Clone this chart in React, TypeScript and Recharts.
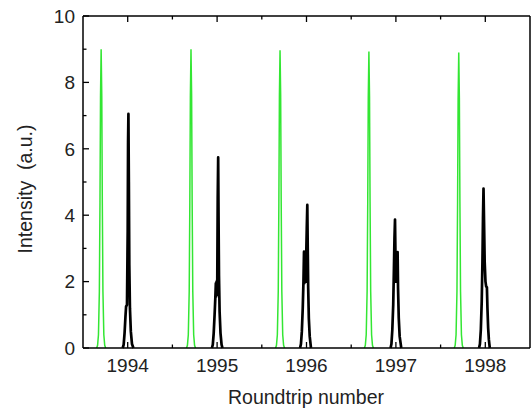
import React from "react";
import { LineChart, Line, XAxis, YAxis, Label } from "recharts";

// roundtrip positions of the five green pulses [x, intensity]
const green1994 = [[1993.653, 0], [1993.663, 0.08], [1993.673, 0.4], [1993.683, 1.7], [1993.69, 4.4], [1993.696, 7.6], [1993.703, 9.0], [1993.71, 7.6], [1993.716, 4.4], [1993.723, 1.7], [1993.733, 0.4], [1993.743, 0.08], [1993.753, 0]];
const green1995 = [[1994.658, 0], [1994.668, 0.08], [1994.678, 0.4], [1994.688, 1.7], [1994.695, 4.4], [1994.701, 7.6], [1994.708, 9.0], [1994.715, 7.6], [1994.721, 4.4], [1994.728, 1.7], [1994.738, 0.4], [1994.748, 0.08], [1994.758, 0]];
const green1996 = [[1995.654, 0], [1995.664, 0.08], [1995.674, 0.4], [1995.684, 1.7], [1995.691, 4.4], [1995.697, 7.6], [1995.704, 8.97], [1995.711, 7.6], [1995.717, 4.4], [1995.724, 1.7], [1995.734, 0.4], [1995.744, 0.08], [1995.754, 0]];
const green1997 = [[1996.648, 0], [1996.658, 0.08], [1996.668, 0.4], [1996.678, 1.7], [1996.685, 4.4], [1996.691, 7.55], [1996.698, 8.93], [1996.705, 7.55], [1996.711, 4.4], [1996.718, 1.7], [1996.728, 0.4], [1996.738, 0.08], [1996.748, 0]];
const green1998 = [[1997.653, 0], [1997.663, 0.08], [1997.673, 0.4], [1997.683, 1.7], [1997.69, 4.4], [1997.696, 7.5], [1997.703, 8.9], [1997.71, 7.5], [1997.716, 4.4], [1997.723, 1.7], [1997.733, 0.4], [1997.743, 0.08], [1997.753, 0]];

// black pulses
const black1994 = [[1993.944, 0], [1993.955, 0.1], [1993.965, 0.45], [1993.975, 0.95], [1993.982, 1.25], [1993.992, 1.3], [1994.0, 3.5], [1994.004, 6.2], [1994.008, 7.05], [1994.013, 5.0], [1994.018, 2.5], [1994.025, 1.2], [1994.035, 0.5], [1994.048, 0.12], [1994.064, 0]];
const black1995 = [[1994.942, 0], [1994.952, 0.1], [1994.962, 0.45], [1994.972, 1.0], [1994.98, 1.5], [1994.986, 1.95], [1994.99, 1.55], [1994.994, 2.0], [1994.998, 1.6], [1995.002, 2.1], [1995.007, 4.5], [1995.012, 5.74], [1995.016, 4.0], [1995.021, 2.2], [1995.028, 1.1], [1995.038, 0.45], [1995.05, 0.1], [1995.06, 0]];
const black1996 = [[1995.928, 0], [1995.938, 0.12], [1995.948, 0.5], [1995.958, 1.2], [1995.966, 2.0], [1995.972, 2.9], [1995.976, 1.95], [1995.98, 2.85], [1995.984, 2.0], [1995.988, 2.8], [1995.992, 2.0], [1995.996, 2.7], [1996.003, 3.6], [1996.009, 4.31], [1996.014, 3.0], [1996.019, 1.8], [1996.026, 0.9], [1996.036, 0.35], [1996.05, 0]];
const black1997 = [[1996.94, 0], [1996.95, 0.12], [1996.96, 0.55], [1996.97, 1.3], [1996.978, 2.4], [1996.984, 3.3], [1996.99, 3.87], [1996.996, 2.6], [1997.0, 2.0], [1997.004, 2.85], [1997.008, 2.0], [1997.012, 2.85], [1997.016, 2.0], [1997.019, 2.89], [1997.024, 1.8], [1997.032, 0.9], [1997.042, 0.35], [1997.06, 0]];
const black1998 = [[1997.93, 0], [1997.94, 0.12], [1997.95, 0.55], [1997.96, 1.4], [1997.968, 2.6], [1997.974, 3.9], [1997.98, 4.8], [1997.986, 3.8], [1997.993, 2.6], [1998.002, 2.0], [1998.01, 1.85], [1998.018, 1.83], [1998.024, 1.2], [1998.032, 0.6], [1998.04, 0.25], [1998.05, 0]];

const xTicks = [1994, 1994.5, 1995, 1995.5, 1996, 1996.5, 1997, 1997.5, 1998];
const yTicks = [0, 1, 2, 3, 4, 5, 6, 7, 8, 9, 10];

// join pulses into one series, broken by null gaps
const toSeries = (peaks: number[][][]) =>
  peaks.flatMap((p) => [
    ...p.map(([x, y]) => ({ x, y })),
    { x: p[p.length - 1][0] + 0.005, y: null },
  ]);

const greenData = toSeries([green1994, green1995, green1996, green1997, green1998]);
const blackData = toSeries([black1994, black1995, black1996, black1997, black1998]);

const FONT = "'Liberation Sans', Arial, sans-serif";
const GAP = 10;

const BottomTick = (props: any) => {
  const { x, y, payload } = props;
  const axisY = y - GAP;
  const major = Number.isInteger(payload.value);
  return (
    <g>
      <line x1={x} x2={x} y1={axisY} y2={axisY - (major ? 6 : 3.5)} stroke="#000" strokeWidth={1.3} />
      {major && (
        <text x={x} y={axisY + 24} textAnchor="middle" fontSize={19} fill="#222" fontFamily={FONT}>
          {payload.value}
        </text>
      )}
    </g>
  );
};

const TopTick = (props: any) => {
  const { x, y, payload } = props;
  const axisY = y + GAP;
  const major = Number.isInteger(payload.value);
  return <line x1={x} x2={x} y1={axisY} y2={axisY + (major ? 6 : 3.5)} stroke="#000" strokeWidth={1.3} />;
};

const LeftTick = (props: any) => {
  const { x, y, payload } = props;
  const axisX = x + GAP;
  const major = payload.value % 2 === 0;
  return (
    <g>
      <line x1={axisX} x2={axisX + (major ? 6 : 3.5)} y1={y} y2={y} stroke="#000" strokeWidth={1.3} />
      {major && (
        <text x={axisX - 8} y={y} dy="0.36em" textAnchor="end" fontSize={19} fill="#222" fontFamily={FONT}>
          {payload.value}
        </text>
      )}
    </g>
  );
};

const RightTick = (props: any) => {
  const { x, y, payload } = props;
  const axisX = x - GAP;
  const major = payload.value % 2 === 0;
  return <line x1={axisX} x2={axisX - (major ? 6 : 3.5)} y1={y} y2={y} stroke="#000" strokeWidth={1.3} />;
};

const axisLine = { stroke: "#000", strokeWidth: 1.5 };

export default function App() {
  return (
    <div style={{ width: 532, height: 411, background: "#fff" }}>
      <style>{"body{margin:0}"}</style>
      <LineChart width={532} height={411} margin={{ top: 15, right: 1, bottom: 0, left: 0 }}>
        <XAxis
          xAxisId="b"
          dataKey="x"
          type="number"
          domain={[1993.5, 1998.5]}
          ticks={xTicks}
          allowDataOverflow
          height={63}
          tickSize={0}
          tickMargin={GAP}
          tickLine={false}
          axisLine={axisLine}
          tick={<BottomTick />}
          interval={0}
        >
          <Label
            content={() => (
              <text x={306} y={404} textAnchor="middle" fontSize={19.5} fill="#222" fontFamily={FONT}>
                Roundtrip number
              </text>
            )}
          />
        </XAxis>
        <XAxis
          xAxisId="t"
          orientation="top"
          dataKey="x"
          type="number"
          domain={[1993.5, 1998.5]}
          ticks={xTicks}
          allowDataOverflow
          height={1}
          tickSize={0}
          tickMargin={GAP}
          tickLine={false}
          axisLine={axisLine}
          tick={<TopTick />}
          interval={0}
        />
        <YAxis
          yAxisId="l"
          type="number"
          domain={[0, 10]}
          ticks={yTicks}
          width={83}
          tickSize={0}
          tickMargin={GAP}
          tickLine={false}
          axisLine={axisLine}
          tick={<LeftTick />}
          interval={0}
        >
          <Label
            content={() => (
              <text
                x={25}
                y={189}
                transform="rotate(-90 25 189)"
                textAnchor="middle"
                dy="0.35em"
                fontSize={19.5}
                fill="#222"
                fontFamily={FONT}
                style={{ whiteSpace: "pre" }}
              >
                {"Intensity  (a.u.)"}
              </text>
            )}
          />
        </YAxis>
        <YAxis
          yAxisId="r"
          orientation="right"
          type="number"
          domain={[0, 10]}
          ticks={yTicks}
          width={1}
          tickSize={0}
          tickMargin={GAP}
          tickLine={false}
          axisLine={axisLine}
          tick={<RightTick />}
          interval={0}
        />
        <Line
          xAxisId="b"
          yAxisId="l"
          data={greenData}
          dataKey="y"
          type="linear"
          stroke="#33e633"
          strokeWidth={1.5}
          dot={false}
          connectNulls={false}
          isAnimationActive={false}
        />
        <Line
          xAxisId="b"
          yAxisId="l"
          data={blackData}
          dataKey="y"
          type="linear"
          stroke="#000"
          strokeWidth={2.7}
          strokeLinejoin="round"
          dot={false}
          connectNulls={false}
          isAnimationActive={false}
        />
      </LineChart>
    </div>
  );
}
